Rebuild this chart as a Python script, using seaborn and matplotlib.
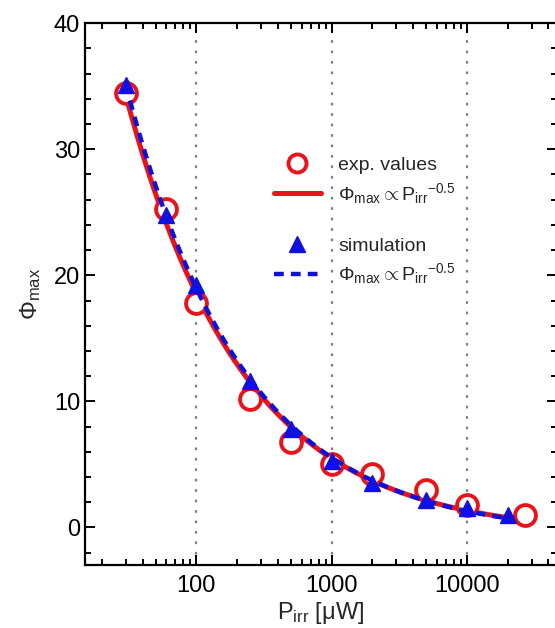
import numpy as np
import pandas as pd
import seaborn as sns
import matplotlib.pyplot as plt
from matplotlib.lines import Line2D
from matplotlib.ticker import LogLocator, MultipleLocator, NullFormatter, FixedLocator

# experimental values
exp_power = [30, 60, 100, 250, 500, 1000, 2000, 5000, 10000, 27000]
exp_phi = [34.5, 25.3, 17.8, 10.2, 6.8, 5.0, 4.2, 3.0, 1.8, 1.0]

# simulation values
sim_power = [30, 60, 100, 250, 500, 1000, 2000, 5000, 10000, 20000]
sim_phi = [35.1, 24.8, 19.2, 11.6, 7.8, 5.3, 3.5, 2.2, 1.5, 1.0]

x_ticks = [100, 1000, 10000]
y_ticks = [0, 10, 20, 30, 40]


def power_fit(p, phi):
    # least squares for phi = a * p^-0.5 + b
    p = np.asarray(p, float)
    a, b = np.polyfit(p ** -0.5, np.asarray(phi, float), 1)
    xs = np.logspace(np.log10(p.min()), np.log10(p.max()), 200)
    return pd.DataFrame({"P": xs, "phi": a * xs ** -0.5 + b})


sns.set_theme(style="ticks")
plt.rcParams.update({
    "font.family": ["Liberation Sans", "DejaVu Sans"],
    "mathtext.fontset": "custom",
    "mathtext.rm": "Liberation Sans",
    "mathtext.it": "Liberation Sans",
    "xtick.direction": "in",
    "ytick.direction": "in",
    "axes.edgecolor": "black",
    "axes.linewidth": 1.6,
    "xtick.color": "black",
    "ytick.color": "black",
})

RED = "#e8141c"
BLUE = "#1010e0"

exp_df = pd.DataFrame({"P": exp_power, "phi": exp_phi})
sim_df = pd.DataFrame({"P": sim_power, "phi": sim_phi})
exp_fit = power_fit(exp_power, exp_phi)
sim_fit = power_fit(sim_power, sim_phi)

fig = plt.figure(figsize=(5.55, 6.28), dpi=100)
ax = fig.add_axes([0.153, 0.100, 0.850, 0.863])

ax.set_xscale("log")
for xv in x_ticks:
    ax.axvline(xv, color="#808080", linestyle=(0, (1.2, 3.5)), linewidth=1.6, zorder=0)

sns.lineplot(data=exp_fit, x="P", y="phi", ax=ax, color=RED, linewidth=3.6, zorder=2)
ax.plot(exp_df["P"], exp_df["phi"], linestyle="none", marker="o", markersize=15,
        markerfacecolor="white", markeredgecolor=RED, markeredgewidth=2.8, zorder=3)
sns.lineplot(data=sim_fit, x="P", y="phi", ax=ax, color="#1010d8", linewidth=3.2,
             linestyle=(0, (2.2, 1.6)), zorder=4)
ax.plot(sim_df["P"], sim_df["phi"], linestyle="none", marker="^", markersize=12,
        color=BLUE, zorder=5)

ax.set_xlim(15, 46000)
ax.set_ylim(-3, 40)
ax.xaxis.set_major_locator(FixedLocator(x_ticks))
ax.set_xticklabels([str(v) for v in x_ticks])
ax.xaxis.set_minor_locator(LogLocator(base=10, subs=np.arange(2, 10)))
ax.xaxis.set_minor_formatter(NullFormatter())
ax.yaxis.set_major_locator(FixedLocator(y_ticks))
ax.yaxis.set_minor_locator(MultipleLocator(2))

ax.tick_params(which="both", top=True, right=True, labelsize=17, width=1.4)
ax.tick_params(which="major", length=7)
ax.tick_params(which="minor", length=4)
ax.tick_params(axis="x", pad=7)

ax.set_xlabel(r"P$_{\rm irr}$ [μW]", fontsize=17, labelpad=2)
ax.set_ylabel(r"$\Phi_{\rm max}$", fontsize=17, labelpad=8)

fit_label = r"$\Phi_{\rm max} \propto P_{\rm irr}{}^{-0.5}$"
exp_handles = [
    Line2D([], [], linestyle="none", marker="o", markersize=13, markerfacecolor="white",
           markeredgecolor=RED, markeredgewidth=2.8),
    Line2D([], [], color=RED, linewidth=3.6),
]
sim_handles = [
    Line2D([], [], linestyle="none", marker="^", markersize=12, color=BLUE),
    Line2D([], [], color="#1010d8", linewidth=3.2, linestyle=(0, (2.2, 1.6))),
]
leg_kw = dict(loc="upper left", frameon=False, fontsize=14, handlelength=2.4,
              handletextpad=0.9, labelspacing=0.35, borderaxespad=0)
leg1 = ax.legend(exp_handles, ["exp. values", fit_label],
                 bbox_to_anchor=(0.384, 0.769), **leg_kw)
ax.add_artist(leg1)
ax.legend(sim_handles, ["simulation", fit_label],
          bbox_to_anchor=(0.384, 0.620), **leg_kw)

fig.savefig("out.png", dpi=100)
